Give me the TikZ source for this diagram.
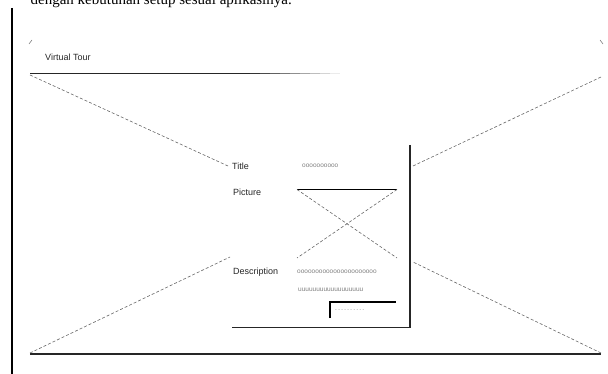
\documentclass[tikz,border=0pt]{standalone}
\usepackage{fontspec}
\setmainfont{Liberation Serif}
\setsansfont{Liberation Sans}
\usetikzlibrary{positioning}

\begin{document}
\begin{tikzpicture}[x=1pt, y=-1pt,
    lbl/.style={font=\sffamily\fontsize{9}{10}\selectfont, inner sep=0pt, anchor=west, text=black!85},
    filler/.style={font=\sffamily\fontsize{6.5}{7}\selectfont, inner sep=0pt, anchor=west, text=black!50},
    edge/.style={line width=1.4pt, black!85},
    guide/.style={densely dashed, line width=0.6pt, black!60},
    tick/.style={line width=0.6pt, black!50}
  ]
    \useasboundingbox (0,0) rectangle (608,374);

    % cut-off caption above the mockup
    \begin{scope}
      \clip (0,0) rectangle (608,20);
      \node[font=\fontsize{15}{17}\selectfont, anchor=base east, inner sep=0pt] (caption) at (292,5) {dengan kebutuhan setup sesuai aplikasinya.};
    \end{scope}

    % page margin
    \coordinate (marginT) at (12,8);
    \coordinate (marginB) at (12,374);
    \draw[line width=1.6pt] (marginT) -- (marginB);

    % frame corners
    \coordinate (cornerTL) at (30,75);
    \coordinate (cornerTR) at (601,77);
    \coordinate (cornerBL) at (30,353);
    \coordinate (cornerBR) at (601,353);
    \draw[tick] (29,44) -- (32,40);
    \draw[tick] (600,40) -- (603,44);

    % window title bar, fading out to the right
    \node[lbl] (winTitle) at (45,57) {Virtual Tour};
    \coordinate (barL) at (30,73.5);
    \coordinate (barM) at (250,73.5);
    \draw[edge] (barL) -- (barM);
    \foreach \i in {0,...,8}
      \draw[line width=1.2pt, black!\the\numexpr 80-9*\i\relax] (250+10*\i,73.5) -- (260+10*\i,73.5);
    \draw[edge] (30,354) -- (601,354);

    % content panel
    \coordinate (panelTR) at (410,145);
    \coordinate (panelBR) at (410,327.5);
    \coordinate (panelBL) at (232,327.5);
    \draw[edge] (panelTR) -- (panelBR) -- (panelBL);

    \node[lbl] (title) at (232,166) {Title};
    \node[filler] (titleVal) at (302,166) {oooooooooo};
    \node[lbl] (picture) at (233,192) {Picture};
    \node[lbl] (descr) at (233,272) {Description};
    \node[filler] (descrVal1) at (297,272) {oooooooooooooooooooooo};
    \node[filler] (descrVal2) at (298,290) {uuuuuuuuuuuuuuuuuu};

    % picture placeholder
    \coordinate (picTL) at (297,189.5);
    \coordinate (picTR) at (397,189.5);
    \coordinate (picBL) at (297,258);
    \coordinate (picBR) at (397,258);
    \draw[line width=1.2pt] (picTL) -- (picTR);
    \draw[guide] (picTL) -- (picBR);
    \draw[guide] (picTR) -- (picBL);

    % button
    \coordinate (btnBL) at (330,318);
    \coordinate (btnTL) at (330,302);
    \coordinate (btnTR) at (396,302);
    \draw[line width=1.2pt] (btnBL) -- (btnTL) -- (btnTR);
    \node[filler, font=\sffamily\fontsize{5}{6}\selectfont] (btnText) at (335,311) {- - - - - - - - - -};

    % perspective guides
    \coordinate (guideTL) at (228,166);
    \coordinate (guideTR) at (413,166);
    \coordinate (guideBL) at (230,257);
    \coordinate (guideBR) at (413,262);
    \draw[guide] (cornerTL) -- (guideTL);
    \draw[guide] (cornerTR) -- (guideTR);
    \draw[guide] (cornerBL) -- (guideBL);
    \draw[guide] (cornerBR) -- (guideBR);
\end{tikzpicture}
\end{document}
